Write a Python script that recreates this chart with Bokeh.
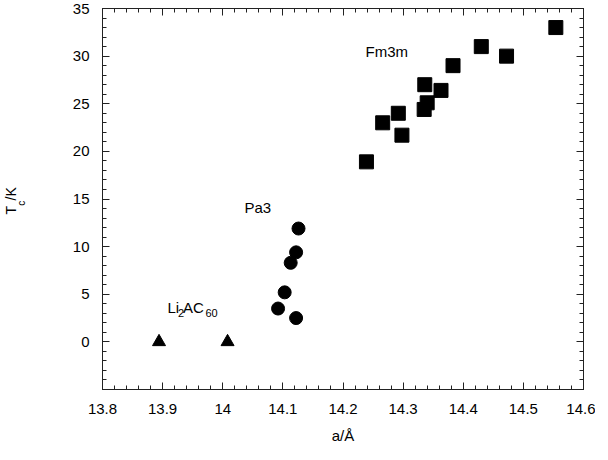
import math
from bokeh.plotting import figure
from bokeh.layouts import row
from bokeh.models import LinearAxis, FixedTicker, Label, Range1d
from bokeh.embed import file_html
from bokeh.resources import INLINE

# ---- data ----
fm3m_a = [14.239, 14.266, 14.292, 14.298, 14.335, 14.340, 14.336, 14.363, 14.383, 14.430, 14.472, 14.554]
fm3m_tc = [18.9, 23.0, 24.0, 21.7, 24.4, 25.1, 27.0, 26.4, 29.0, 31.0, 30.0, 33.0]

pa3_a = [14.126, 14.122, 14.113, 14.103, 14.092, 14.122]
pa3_tc = [11.9, 9.4, 8.3, 5.2, 3.5, 2.5]

li_a = [13.894, 14.008]
li_tc = [0.0, 0.0]

x_ticks = [13.8, 13.9, 14.0, 14.1, 14.2, 14.3, 14.4, 14.5, 14.6]
x_tick_labels = ["13.8", "13.9", "14", "14.1", "14.2", "14.3", "14.4", "14.5", "14.6"]
y_ticks = [0, 5, 10, 15, 20, 25, 30, 35]
y_tick_labels = ["0", "5", "10", "15", "20", "25", "30", "35"]

X0, X1 = 13.8, 14.6
Y0, Y1 = -5, 35

FONT = "Liberation Sans"
FW, FH = 481, 381
H = 450                      # common height of both figures
LW = 40                      # width of the narrow figure carrying the y-axis title
LEFT, TOP, RIGHT = 102 - LW, 8, 12
BOTTOM = H - TOP - FH

y_range = Range1d(Y0, Y1)


# page-pixel position -> data coordinate (annotation placement only)
def px2x(px):
    return X0 + (px - (8 + LW + LEFT)) * (X1 - X0) / FW


def py2y(py):
    return Y1 - (py - (8 + TOP)) * (Y1 - Y0) / FH


# ---- narrow figure holding the rotated y title (T_c/K); same vertical frame as the plot ----
q = figure(width=LW, height=H, output_backend="svg", toolbar_location=None,
           x_range=Range1d(0, LW), y_range=y_range,
           min_border_left=0, min_border_right=0, min_border_top=TOP, min_border_bottom=BOTTOM,
           outline_line_color=None, x_axis_location=None, y_axis_location=None,
           background_fill_color="white", border_fill_color="white", align="start")
q.title.visible = False
q.xgrid.visible = False
q.ygrid.visible = False


def qlab(text, px, py, size):
    # (px, py): page position of the centre of the piece of text
    q.add_layout(Label(x=px - 8, y=py2y(py), text=text, text_font=FONT, text_font_size=size,
                       text_color="black", text_baseline="middle", text_align="center",
                       angle=math.pi / 2))


qlab("T", 18.6, 217.7, "14px")
qlab("c", 28.5, 210.8, "10px")
qlab("/K", 18.6, 201.4, "14px")

# ---- main figure ----
p = figure(width=LEFT + FW + RIGHT, height=H, output_backend="svg", toolbar_location=None,
           x_range=Range1d(X0, X1), y_range=y_range,
           min_border_left=LEFT, min_border_right=RIGHT, min_border_top=TOP, min_border_bottom=BOTTOM,
           background_fill_color="white", border_fill_color="white", outline_line_color="#222222",
           align="start")
p.xgrid.visible = False
p.ygrid.visible = False

x_minor = [round(X0 + 0.02 * i, 2) for i in range(41)]
y_minor = list(range(Y0, Y1 + 1))


def style_axis(ax, labels=True):
    ax.axis_line_color = "#222222"
    ax.major_tick_line_color = "#222222"
    ax.minor_tick_line_color = "#222222"
    ax.major_tick_in = 7
    ax.major_tick_out = 0
    ax.minor_tick_in = 4
    ax.minor_tick_out = 0
    ax.major_label_text_font = FONT
    if labels:
        ax.major_label_text_font_size = "15px"
        ax.major_label_text_color = "black"
    else:
        ax.major_label_text_font_size = "1px"
        ax.major_label_text_color = None
        ax.major_label_standoff = 0


xa = p.xaxis[0]
xa.ticker = FixedTicker(ticks=x_ticks, minor_ticks=x_minor)
xa.major_label_overrides = {t: l for t, l in zip(x_ticks, x_tick_labels)}
style_axis(xa)
xa.major_label_standoff = 14
xa.axis_label = "a/Å"
xa.axis_label_text_font = FONT
xa.axis_label_text_font_size = "15px"
xa.axis_label_text_font_style = "normal"
xa.axis_label_text_color = "black"
xa.axis_label_standoff = 10

ya = p.yaxis[0]
ya.ticker = FixedTicker(ticks=y_ticks, minor_ticks=y_minor)
ya.major_label_overrides = {t: l for t, l in zip(y_ticks, y_tick_labels)}
style_axis(ya)
ya.major_label_standoff = 13

top_ax = LinearAxis(ticker=FixedTicker(ticks=x_ticks, minor_ticks=x_minor))
style_axis(top_ax, labels=False)
p.add_layout(top_ax, "above")
right_ax = LinearAxis(ticker=FixedTicker(ticks=y_ticks, minor_ticks=y_minor))
style_axis(right_ax, labels=False)
p.add_layout(right_ax, "right")

# ---- markers ----
p.scatter(fm3m_a, fm3m_tc, marker="square", size=14, fill_color="black", line_color="black")
p.scatter(pa3_a, pa3_tc, marker="circle", size=13, fill_color="black", line_color="black")
p.scatter(li_a, li_tc, marker="triangle", size=13, fill_color="black", line_color="black")


def lab(text, px, py, size="15px"):
    p.add_layout(Label(x=px2x(px), y=py2y(py), text=text, text_font=FONT, text_font_size=size,
                       text_color="black", text_baseline="alphabetic", text_align="left"))


lab("Fm3m", 373, 59)
lab("Pa3", 252, 215)
lab("Li", 175, 315)
lab("2", 185.5, 320, "11px")
lab("AC", 190.5, 315)
lab("60", 213, 320, "11px")

layout = row(q, p, spacing=0)
open("out.html", "w").write(file_html(layout, INLINE))
